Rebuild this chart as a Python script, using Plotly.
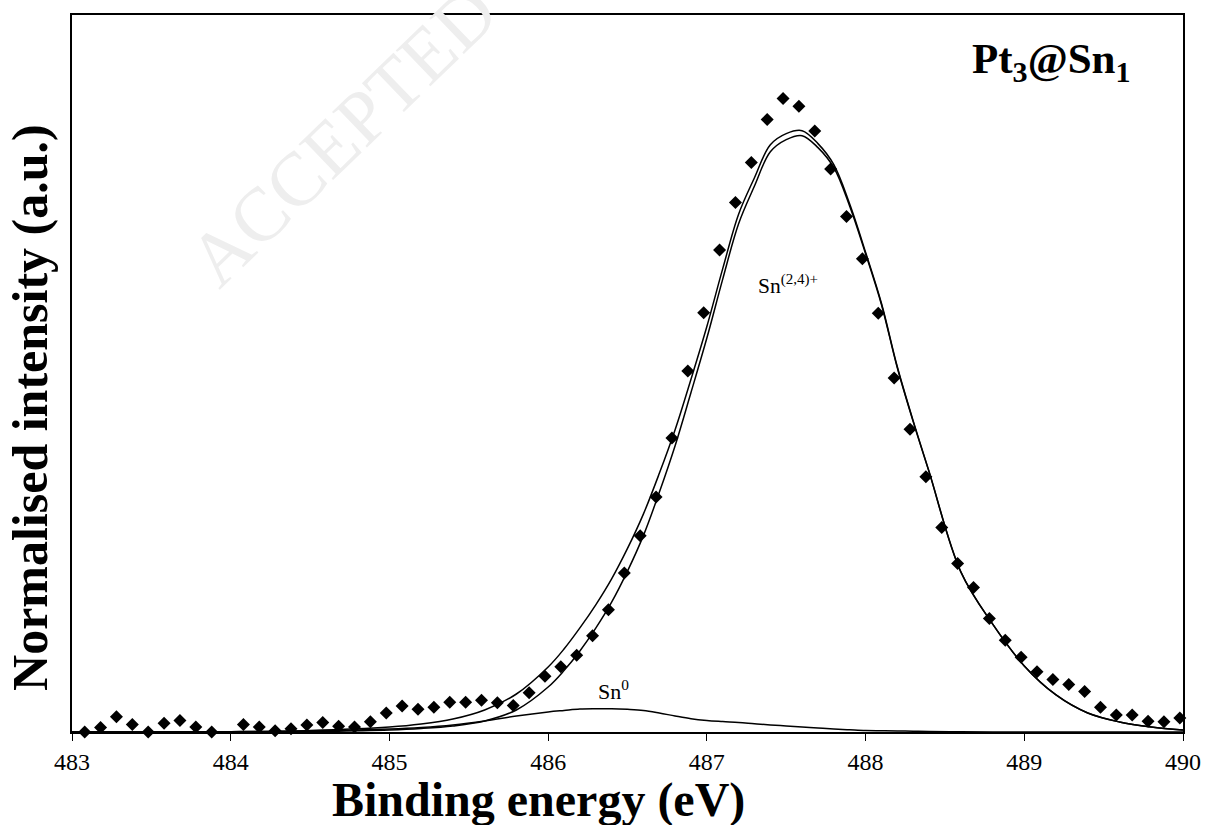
import plotly.graph_objects as go

# Measured XPS data points (Sn 3d5/2)
energy_pts = [483.08, 483.18, 483.28, 483.38, 483.48, 483.58, 483.68, 483.78, 483.88,
              484.08, 484.18, 484.28, 484.38, 484.48, 484.58, 484.68, 484.78, 484.88, 484.98,
              485.08, 485.18, 485.28, 485.38, 485.48, 485.58, 485.68, 485.78, 485.88, 485.98,
              486.08, 486.18, 486.28, 486.38, 486.48, 486.58, 486.68, 486.78, 486.88, 486.98,
              487.08, 487.18, 487.28, 487.38, 487.48, 487.58, 487.68, 487.78, 487.88, 487.98,
              488.08, 488.18, 488.28, 488.38, 488.48, 488.58, 488.68, 488.78, 488.88, 488.98,
              489.08, 489.18, 489.28, 489.38, 489.48, 489.58, 489.68, 489.78, 489.88, 489.98]
intensity_pts = [0.000, 0.007, 0.024, 0.012, 0.000, 0.014, 0.018, 0.008, 0.000,
                 0.012, 0.008, 0.002, 0.005, 0.011, 0.015, 0.009, 0.008, 0.016, 0.030,
                 0.041, 0.036, 0.039, 0.047, 0.047, 0.050, 0.046, 0.042, 0.062, 0.088,
                 0.103, 0.121, 0.152, 0.193, 0.251, 0.310, 0.371, 0.464, 0.570, 0.662,
                 0.761, 0.836, 0.899, 0.967, 1.000, 0.988, 0.949, 0.889, 0.814, 0.747,
                 0.661, 0.559, 0.478, 0.403, 0.323, 0.266, 0.228, 0.179, 0.145, 0.118,
                 0.095, 0.083, 0.075, 0.064, 0.039, 0.027, 0.027, 0.017, 0.016, 0.022]

# Fitted curves
energy_fit = [483.0, 483.5, 484.0, 484.5, 485.0, 485.2, 485.4, 485.6, 485.8,
              486.0, 486.1, 486.2, 486.3, 486.4, 486.5, 486.6, 486.7, 486.8, 486.9,
              487.0, 487.1, 487.2, 487.3, 487.4, 487.5, 487.6, 487.7, 487.8, 487.9,
              488.0, 488.1, 488.2, 488.3, 488.4, 488.6, 488.8, 489.0, 489.2, 489.4,
              489.6, 489.8, 490.0]
envelope_fit = [0.0, 0.0, 0.0005, 0.0024, 0.0079, 0.0126, 0.0205, 0.0348, 0.060,
                0.1026, 0.131, 0.1643, 0.2008, 0.2418, 0.2898, 0.344, 0.408, 0.4773, 0.557,
                0.6402, 0.7315, 0.8175, 0.875, 0.9271, 0.9447, 0.9494, 0.9289, 0.8957, 0.8335,
                0.7575, 0.677, 0.5766, 0.4912, 0.4115, 0.2531, 0.1706, 0.1043, 0.0585, 0.030,
                0.0158, 0.0079, 0.0032]
sn24_fit = [0.0, 0.0, 0.0, 0.0008, 0.0032, 0.0055, 0.0095, 0.0174, 0.0348,
            0.071, 0.097, 0.128, 0.164, 0.205, 0.254, 0.310, 0.378, 0.452, 0.536,
            0.622, 0.715, 0.8025, 0.862, 0.916, 0.9352, 0.9415, 0.9226, 0.891, 0.830,
            0.7551, 0.675, 0.575, 0.490, 0.4107, 0.2528, 0.1706, 0.1043, 0.0585, 0.030,
            0.0158, 0.0079, 0.0032]
sn0_fit = [0.0, 0.0, 0.0005, 0.0016, 0.0047, 0.0071, 0.0111, 0.0174, 0.0253,
           0.0316, 0.034, 0.0363, 0.0368, 0.0368, 0.0358, 0.034, 0.030, 0.0253, 0.021,
           0.0182, 0.0165, 0.015, 0.013, 0.0111, 0.0095, 0.0079, 0.0063, 0.0047, 0.0035,
           0.0024, 0.002, 0.0016, 0.0012, 0.0008, 0.0003, 0.0, 0.0, 0.0, 0.0,
           0.0, 0.0, 0.0]

x_ticks = [483, 484, 485, 486, 487, 488, 489, 490]

SERIF = "Liberation Serif, Times New Roman, serif"

fig = go.Figure()

line_style = dict(color="black", width=1.5, shape="spline", smoothing=1.0)
fig.add_trace(go.Scatter(x=energy_fit, y=sn0_fit, mode="lines", line=line_style,
                         name="Sn0", showlegend=False, hoverinfo="skip"))
fig.add_trace(go.Scatter(x=energy_fit, y=sn24_fit, mode="lines", line=line_style,
                         name="Sn(2,4)+", showlegend=False, hoverinfo="skip"))
fig.add_trace(go.Scatter(x=energy_fit, y=envelope_fit, mode="lines", line=line_style,
                         name="Envelope", showlegend=False, hoverinfo="skip"))
fig.add_trace(go.Scatter(x=energy_pts, y=intensity_pts, mode="markers",
                         marker=dict(symbol="diamond", size=10, color="black"),
                         name="Data", showlegend=False, cliponaxis=False))

fig.update_layout(
    width=1213, height=825,
    margin=dict(l=72, r=22, t=15, b=93),
    paper_bgcolor="white", plot_bgcolor="white",
    font=dict(family=SERIF, color="black"),
    showlegend=False,
    xaxis=dict(range=[483, 490], tickvals=x_ticks, ticktext=[str(t) for t in x_ticks],
               ticks="outside", ticklen=7, tickwidth=1, tickcolor="black",
               showline=True, linecolor="black", linewidth=1.5, mirror=True,
               showgrid=False, zeroline=False, tickfont=dict(size=24, family=SERIF)),
    yaxis=dict(range=[0, 1.132], showticklabels=False, ticks="",
               showline=True, linecolor="black", linewidth=1.5, mirror=True,
               showgrid=False, zeroline=False),
)

annotations = [
    dict(text="ACCEPTED", xref="paper", yref="paper", x=0.2434, y=0.8326,
         showarrow=False, textangle=-44, font=dict(size=76, color="#eeeeee", family=SERIF),
         xanchor="center", yanchor="middle"),
    dict(text="<b>Binding energy (eV)</b>", xref="paper", yref="paper", x=0.42, y=-0.095,
         showarrow=False, font=dict(size=48, family=SERIF), xanchor="center", yanchor="middle"),
    dict(text="<b>Normalised intensity (a.u.)</b>", xref="paper", yref="paper", x=-0.038, y=0.453,
         showarrow=False, textangle=-90, font=dict(size=50, family=SERIF),
         xanchor="center", yanchor="middle"),
    dict(text="<b>Pt<sub>3</sub>@Sn<sub>1</sub></b>", xref="paper", yref="paper", x=0.882, y=0.934,
         showarrow=False, font=dict(size=43, family=SERIF), xanchor="center", yanchor="middle"),
    dict(text="Sn<sup>(2,4)+</sup>", x=487.31, y=0.706, xref="x", yref="y",
         showarrow=False, font=dict(size=21.5, family=SERIF), xanchor="left", yanchor="middle"),
    dict(text="Sn<sup>0</sup>", x=486.41, y=0.066, xref="x", yref="y",
         showarrow=False, font=dict(size=22, family=SERIF), xanchor="center", yanchor="middle"),
]
fig.update_layout(annotations=annotations)

fig.write_html("out.html")
